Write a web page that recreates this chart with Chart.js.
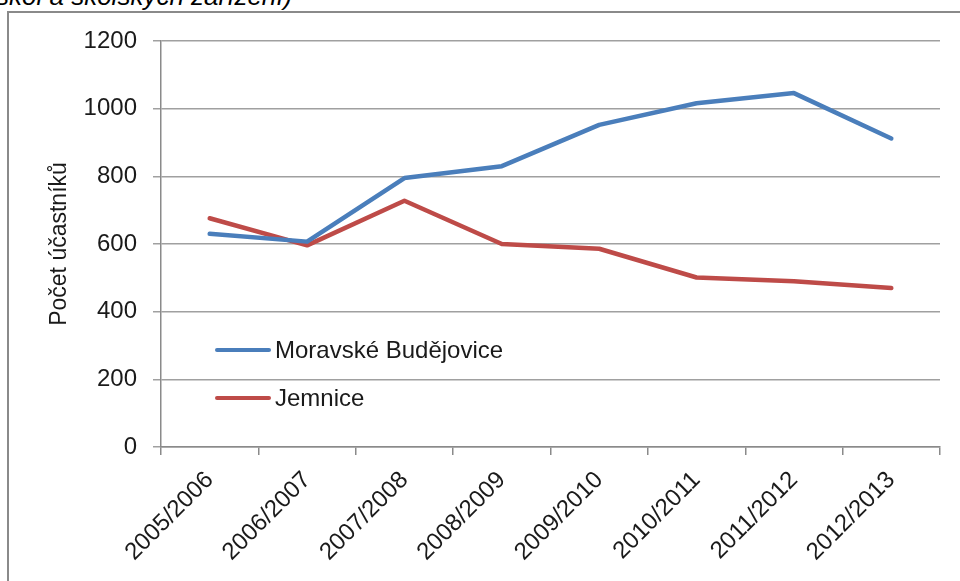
<!DOCTYPE html>
<html lang="cs">
<head>
<meta charset="utf-8">
<title>Počet účastníků</title>
<script src="https://cdn.jsdelivr.net/npm/chart.js@4.4.1/dist/chart.umd.min.js"></script>
<style>
    html, body { margin: 0; padding: 0; background: #fff; }
    body { width: 960px; height: 581px; position: relative; overflow: hidden; }
    #caption {
        position: absolute; left: -4px; top: -17px;
        font: italic 26px "Liberation Sans", Arial, sans-serif; line-height: 1;
        color: #000; white-space: nowrap;
    }
    #frame {
        position: absolute; left: 7px; top: 11px; width: 1000px; height: 1000px;
        border: 2px solid #8a8a8a; box-sizing: border-box;
    }
    #chart { position: absolute; left: 0; top: 0; }
</style>
</head>
<body>
<div id="caption">škol a školských zařízení)</div>
<div id="frame"></div>
<canvas id="chart" width="960" height="581"></canvas>
<script>
const years = ['2005/2006', '2006/2007', '2007/2008', '2008/2009', '2009/2010', '2010/2011', '2011/2012', '2012/2013'];
const moravskeBudejovice = [630, 607, 795, 830, 952, 1016, 1046, 912];
const jemnice = [676, 596, 728, 600, 586, 501, 490, 470];
const yTicks = [0, 200, 400, 600, 800, 1000, 1200];

const FONT = '"Liberation Sans", Arial, sans-serif';

// legend drawn inside the plot, like the Excel original
const insideLegend = {
    id: 'insideLegend',
    afterDatasetsDraw(chart, args, opts) {
        const { ctx, chartArea } = chart;
        const x0 = chartArea.left + opts.x;
        ctx.save();
        ctx.font = `24px ${FONT}`;
        ctx.textBaseline = 'middle';
        chart.data.datasets.forEach((ds, i) => {
            const y = chartArea.top + opts.y + i * opts.gap;
            ctx.strokeStyle = ds.borderColor;
            ctx.lineWidth = 4;
            ctx.lineCap = 'round';
            ctx.beginPath();
            ctx.moveTo(x0, y);
            ctx.lineTo(x0 + 52, y);
            ctx.stroke();
            ctx.fillStyle = '#1a1a1a';
            ctx.fillText(ds.label, x0 + 58, y + 1);
        });
        ctx.restore();
    }
};

new Chart(document.getElementById('chart'), {
    type: 'line',
    data: {
        labels: years,
        datasets: [
            { label: 'Moravské Budějovice', data: moravskeBudejovice, borderColor: '#4a7ebb', borderWidth: 4.5, pointRadius: 0, tension: 0, borderCapStyle: 'round', borderJoinStyle: 'round' },
            { label: 'Jemnice', data: jemnice, borderColor: '#be4b48', borderWidth: 4.5, pointRadius: 0, tension: 0, borderCapStyle: 'round', borderJoinStyle: 'round' }
        ]
    },
    plugins: [insideLegend],
    options: {
        responsive: false,
        animation: false,
        events: [],
        layout: { padding: { top: 41, right: 20, left: 0, bottom: 0 } },
        plugins: {
            legend: { display: false },
            tooltip: { enabled: false },
            insideLegend: { x: 56, y: 309, gap: 48 }
        },
        scales: {
            x: {
                offset: true,
                grid: { offset: true, drawOnChartArea: false, drawTicks: true, tickLength: 8, color: '#8a8a8a', lineWidth: 1.5 },
                border: { color: '#8a8a8a', width: 1.5 },
                ticks: { autoSkip: false, maxRotation: 45, minRotation: 45, padding: 11, color: '#1a1a1a', font: { family: FONT, size: 24 } },
                afterFit: s => { s.height = 134; }
            },
            y: {
                min: 0, max: 1200,
                afterBuildTicks: s => { s.ticks = yTicks.map(v => ({ value: v })); },
                grid: { color: '#a0a0a0', lineWidth: 1.5, tickLength: 8 },
                border: { color: '#8a8a8a', width: 1.5 },
                ticks: { padding: 16, color: '#1a1a1a', font: { family: FONT, size: 24 }, callback: v => String(v) },
                title: { display: true, text: 'Počet účastníků', color: '#1a1a1a', font: { family: FONT, size: 23 }, padding: { top: 46 } },
                afterFit: s => { s.width = 161; }
            }
        }
    }
});
</script>
</body>
</html>
